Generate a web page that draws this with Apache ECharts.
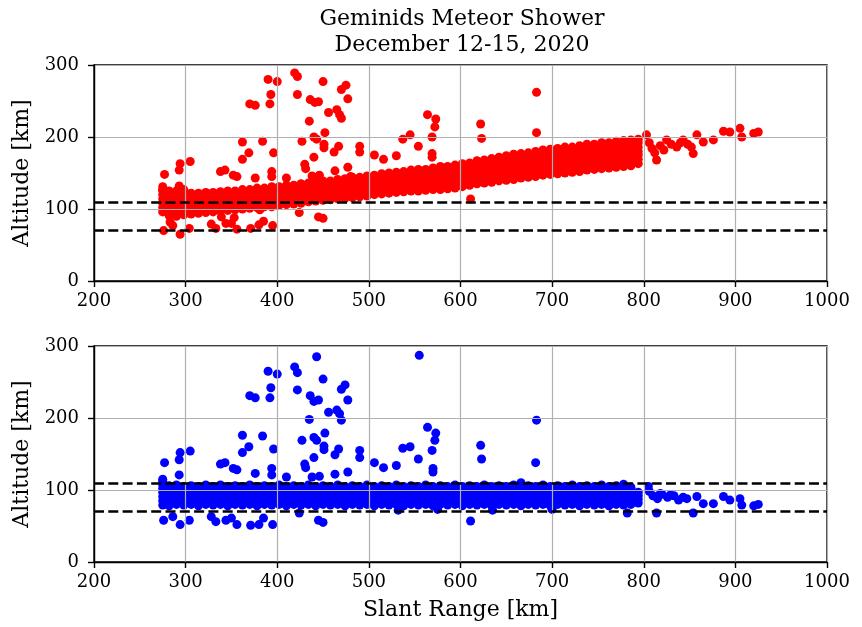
<!DOCTYPE html>
<html><head><meta charset="utf-8">
<script src="https://cdn.jsdelivr.net/npm/echarts@6/dist/echarts.min.js"></script>
<style>html,body{margin:0;padding:0;background:#fff}#c{width:862px;height:627px}</style>
</head><body><div id="c"></div>
<script>
const titleLines = ['Geminids Meteor Shower', 'December 12-15, 2020'];
const xLabel = 'Slant Range [km]';
const yLabel = 'Altitude [km]';
const xTicks = [200, 300, 400, 500, 600, 700, 800, 900, 1000];
const yTicks = [0, 100, 200, 300];
const refLines = [70, 110];

// dense band, top panel: [slant range, altitude, altitude, ...]
const topBand = [
[275,96,102,108,114,120,126,131],[282,91,97,103,109,115,121,125],[290,90,96,102,108,114,120,125],[298,92,98,104,110,116,122,127],
[306,93,99,105,111,117,122],[314,94,100,106,112,118,122],[322,95,101,107,113,119,123],[330,96,102,108,114,119,123],
[338,97,103,109,115,120,124],[346,98,104,110,115,120,125],[354,99,105,111,116,121,125],[362,100,106,112,117,122,127],
[370,101,107,113,118,123,127],[378,102,108,114,119,124,129],[386,103,109,115,120,125,129],[394,104,110,116,121,126,131],
[402,105,111,117,122,127,131],[410,106,112,118,123,128,133],[418,107,113,119,124,129,133],[426,108,114,120,125,130,135],
[434,110,116,121,126,131,136],[442,111,117,122,127,132,137],[450,112,118,123,128,134,139],[458,113,119,124,129,134,139],
[466,114,120,125,130,136,141],[474,115,121,126,131,137,142],[482,116,122,127,133,139,144],[490,117,123,128,133,139,144],
[498,118,124,129,135,141,146],[506,120,126,131,136,142,147],[514,121,127,132,138,144,149],[522,122,128,133,139,145,150],
[530,123,129,134,140,146,151],[538,124,130,135,141,147,152],[546,125,131,137,143,149,154],[554,125,131,137,143,149,155],
[562,126,132,138,144,150,155],[570,127,133,139,145,151,157],[578,127,132,138,143,148,154,159],[586,128,133,139,144,149,154,159],
[594,129,134,140,145,150,156,161],[602,131,136,142,147,152,158,163],[610,133,138,143,148,154,159,164],[618,135,140,145,151,156,162,167],
[626,136,141,147,152,157,163,168],[634,137,143,148,154,159,165,170],[642,139,145,150,156,161,167,172],[650,140,146,151,157,163,168,174],
[658,141,147,153,159,164,170,176],[666,143,149,154,160,166,171,177],[674,144,150,155,161,167,172,178],[682,145,151,157,163,168,174,180],
[690,147,153,158,164,170,176,182],[698,148,154,160,166,171,177,183],[706,149,155,161,167,172,178,184],[714,150,156,162,168,174,180,186],
[722,151,157,163,169,174,180,186],[730,152,158,164,170,176,182,188],[738,154,160,166,172,178,184,190],[746,155,161,167,173,179,185,190],
[754,156,162,168,174,180,186,192],[762,157,163,169,175,181,186,192],[770,158,164,170,176,182,188,194],[778,159,165,171,177,183,189,195],
[786,160,166,172,178,184,190,196],[794,163,169,175,180,186,192,197]
];
const topSparse = [
[390,280],[400,277],[419,289],[422,284],[450,277],[393,259],[422,259],[370,246],[376,244],[392,246],
[436,252],[441,248],[445,249],[470,266],[475,272],[477,253],[456,234],[465,238],[468,231],[470,226],
[435,222],[452,206],[440,200],[443,197],[427,194],[451,190],[451,185],[467,187],[462,179],[490,187],
[490,179],[506,175],[516,169],[530,174],[537,197],[545,203],[554,187],[564,231],[573,225],[572,214],
[569,200],[569,177],[569,172],[362,193],[384,194],[369,178],[362,169],[396,178],[294,163],[305,166],
[293,154],[277,148],[338,152],[343,154],[352,147],[356,145],[376,143],[394,152],[394,145],[410,143],
[430,162],[431,156],[440,172],[438,146],[446,147],[463,153],[477,158],[480,145],[275,126],[293,132],
[424,95],[445,89],[450,87],[276,70],[294,65],[304,73],[283,82],[286,77],[328,79],[333,73],
[339,89],[344,80],[350,80],[353,88],[356,72],[371,73],[380,78],[385,83],[395,77],[381,99],[394,103],
[683,262],[683,206],[622,218],[623,198],[611,114],
[803,203],[814,168],[825,196],[843,196],[854,177],[858,203],[865,193],[876,196],[887,208],[894,207],
[905,212],[907,200],[920,205],[925,207],
[806,192],[809,184],[812,178],[818,188],[822,182],[830,190],[836,186],[840,192],[848,190],[852,186]
];

// dense band, bottom panel
const bottomBand = [
[275,79,85,91,97,102,107,112],[282,78,84,90,96,101,106],[290,80,86,92,97,102,107],[298,79,85,91,96,101,105],
[306,80,86,92,97,102,106],[314,78,84,90,96,101,105],[322,80,86,92,97,102,107],[330,79,85,91,96,101,105],
[338,80,86,92,97,102,107],[346,78,84,90,96,101,105],[354,80,86,92,97,102,106],[362,79,85,91,96,101,105],
[370,80,86,92,97,102,107],[378,78,84,90,96,101,105],[386,80,86,92,97,102,106],[394,79,85,91,96,101,105],
[402,80,86,92,97,102,107],[410,78,84,90,96,101,105],[418,80,86,92,97,102,106],[426,79,85,91,96,101,105],
[434,80,86,92,97,102,107],[442,78,84,90,96,101,105],[450,80,86,92,97,102,106],[458,79,85,91,96,101,105],
[466,80,86,92,97,102,107],[474,78,84,90,96,101,105],[482,80,86,92,97,102,106],[490,79,85,91,96,101,105],
[498,80,86,92,97,102,107],[506,78,84,90,96,101,105],[514,80,86,92,97,102,106],[522,79,85,91,96,101,105],
[530,80,86,92,97,102,107],[538,78,84,90,96,101,105],[546,80,86,92,97,102,106],[554,79,85,91,96,101,105],
[562,80,86,92,97,102,107],[570,78,84,90,96,101,105],[578,80,86,92,97,102,106],[586,79,85,91,96,101,105],
[594,80,86,92,97,102,107],[602,78,84,90,96,101,105],[610,80,86,92,97,102,106],[618,79,85,91,96,101,105],
[626,80,86,92,97,102,107],[634,78,84,90,96,101,105],[642,80,86,92,97,102,106],[650,79,85,91,96,101,105],
[658,80,86,92,97,102,107],[666,78,84,90,96,101,110],[674,80,86,92,97,102,106],[682,79,85,91,96,101,105],
[690,80,86,92,97,102,107],[698,78,84,90,96,101,105],[706,80,86,92,97,102,106],[714,79,85,91,96,101,105],
[722,80,86,92,97,102,107],[730,78,84,90,96,101,105],[738,80,86,92,97,102,106],[746,79,85,91,96,101,105],
[754,80,86,92,97,102,107],[762,78,84,90,96,101,105],[770,80,86,92,97,102,106],[778,79,85,91,96,101,108],
[786,80,86,92,97,102,104],[794,82,87,92,97]
];
const bottomSparse = [
[443,285],[555,287],[419,271],[422,263],[390,265],[400,261],[450,254],[474,246],[470,240],[477,225],
[370,231],[376,228],[393,242],[392,228],[422,239],[436,231],[440,223],[445,225],[456,208],[465,211],
[468,206],[470,197],[435,198],[564,187],[573,179],[572,169],[569,155],[570,130],[570,125],[554,143],
[537,158],[545,160],[530,134],[516,131],[506,138],[490,155],[490,145],[477,125],[463,122],[467,157],
[463,149],[451,161],[451,156],[452,179],[440,173],[443,169],[427,169],[440,145],[430,136],[431,131],
[438,118],[446,119],[362,176],[384,175],[369,160],[362,152],[396,157],[394,130],[394,121],[338,136],
[343,138],[352,130],[356,128],[376,123],[410,118],[294,152],[305,154],[293,142],[277,138],[275,115],
[293,121],
[276,58],[294,52],[304,58],[286,63],[328,63],[333,56],[344,58],[350,61],[356,52],[371,51],
[380,52],[385,61],[395,52],[424,68],[445,58],[450,55],
[622,162],[623,143],[683,197],[682,138],[611,57],
[532,72],[575,73],[635,72],[700,73],[782,68],
[805,105],[814,68],[818,95],[829,93],[847,88],[854,68],[858,91],[865,81],[876,81],[887,91],
[894,86],[905,88],[907,79],[920,78],[925,80],
[806,98],[810,92],[815,88],[820,94],[826,90],[833,92],[838,86],[843,90]
];

function rowsToPoints(rows) {
  const out = [];
  rows.forEach(r => { for (let i = 1; i < r.length; i++) out.push([r[0], r[i]]); });
  return out;
}

const FONT = 'DejaVu Serif';
const gridTops = [65, 346];

function xAxisFor(i, withName) {
  return {
    type: 'value', gridIndex: i, z: 3,
    min: xTicks[0], max: xTicks[xTicks.length - 1], interval: xTicks[1] - xTicks[0],
    name: withName ? xLabel : '', nameLocation: 'middle', nameGap: 37,
    nameTextStyle: { fontFamily: FONT, fontSize: 22, color: '#000' },
    axisLine: { show: true, lineStyle: { color: '#000', width: 1.4 } },
    axisTick: { show: true, length: 6, lineStyle: { color: '#000', width: 1.4 } },
    axisLabel: { fontFamily: FONT, fontSize: 18, color: '#000', margin: 11, formatter: v => String(v) },
    splitLine: { show: true, lineStyle: { color: '#b0b0b0', width: 1.2 } }
  };
}
function yAxisFor(i) {
  return {
    type: 'value', gridIndex: i, z: 3,
    min: yTicks[0], max: yTicks[yTicks.length - 1], interval: yTicks[1] - yTicks[0],
    name: yLabel, nameLocation: 'middle', nameGap: 50,
    nameTextStyle: { fontFamily: FONT, fontSize: 22, color: '#000' },
    axisLine: { show: true, lineStyle: { color: '#000', width: 1.4 } },
    axisTick: { show: true, length: 6, lineStyle: { color: '#000', width: 1.4 } },
    axisLabel: { fontFamily: FONT, fontSize: 18, color: '#000', margin: 15, formatter: v => String(v) },
    splitLine: { show: true, lineStyle: { color: '#b0b0b0', width: 1.2 } }
  };
}
function scatterFor(i, data, color) {
  return {
    type: 'scatter', xAxisIndex: i, yAxisIndex: i, data: data, z: 2,
    symbol: 'circle', symbolSize: 9, silent: true,
    itemStyle: { color: color, opacity: 1, borderWidth: 0 }
  };
}
function refLineSeries(i) {
  return {
    type: 'scatter', xAxisIndex: i, yAxisIndex: i, data: [], z: 5, silent: true,
    markLine: {
      silent: true, symbol: ['none', 'none'], label: { show: false }, animation: false,
      lineStyle: { color: '#000', width: 2.7, type: [10, 4.3] },
      data: refLines.map(v => ({ yAxis: v }))
    }
  };
}

const chart = echarts.init(document.getElementById('c'));
chart.setOption({
  animation: false,
  backgroundColor: '#fff',
  graphic: [
    { type: 'text', x: 462, y: 19, z: 10,
      style: { text: titleLines[0], fontFamily: FONT, fontSize: 22, fill: '#000', align: 'center', verticalAlign: 'middle' } },
    { type: 'text', x: 462, y: 45, z: 10,
      style: { text: titleLines[1], fontFamily: FONT, fontSize: 22, fill: '#000', align: 'center', verticalAlign: 'middle' } }
  ],
  grid: gridTops.map(t => ({ left: 94, top: t, width: 733, height: 216, show: true, borderColor: '#000', borderWidth: 1.4, backgroundColor: 'transparent', containLabel: false })),
  xAxis: [xAxisFor(0, false), xAxisFor(1, true)],
  yAxis: [yAxisFor(0), yAxisFor(1)],
  series: [
    scatterFor(0, rowsToPoints(topBand).concat(topSparse), '#ff0000'),
    scatterFor(1, rowsToPoints(bottomBand).concat(bottomSparse), '#0000ff'),
    refLineSeries(0),
    refLineSeries(1)
  ]
});
</script>
</body></html>
